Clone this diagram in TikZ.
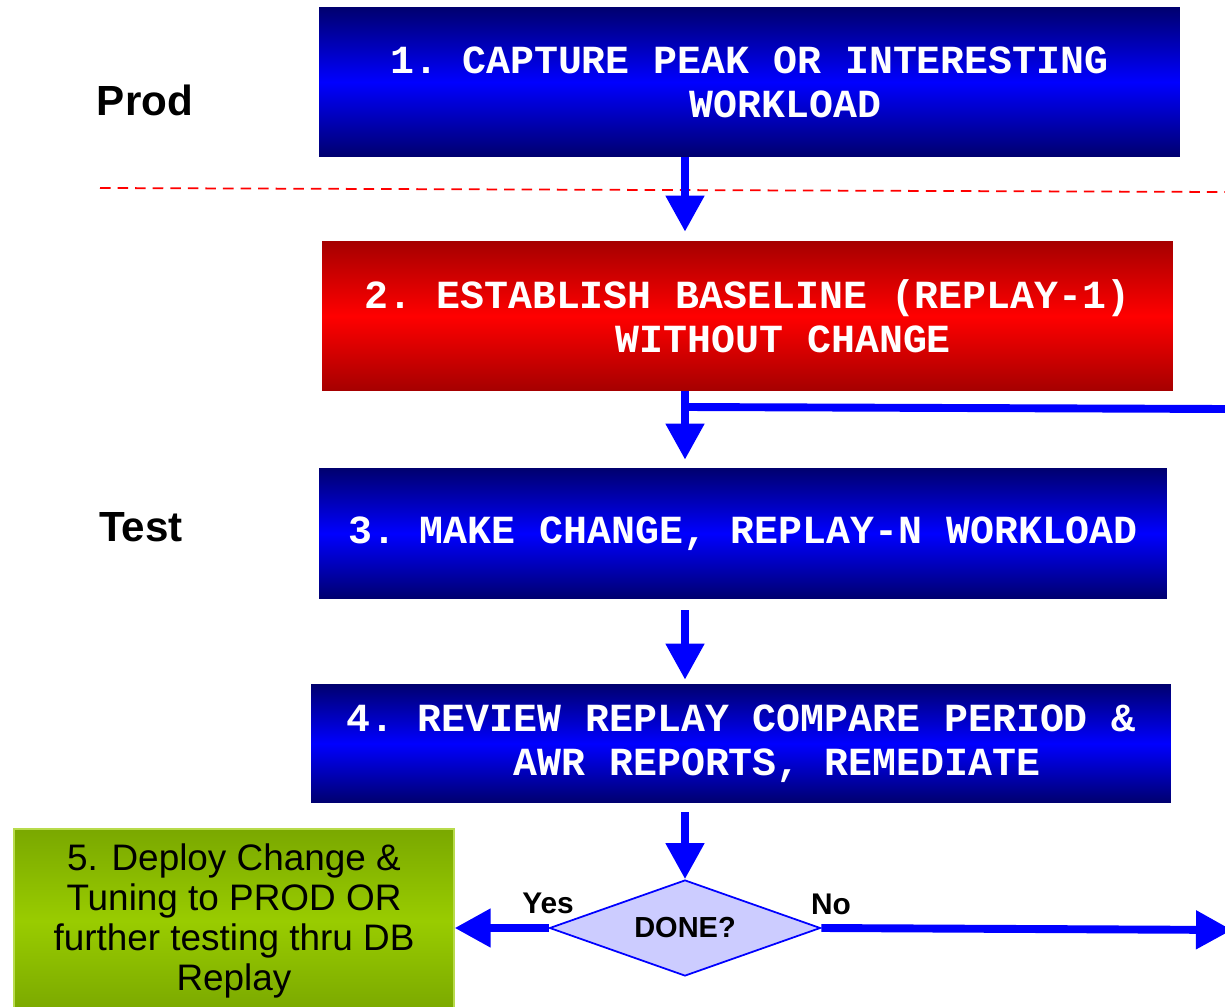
\documentclass[tikz,border=0pt]{standalone}
\usepackage{fontspec}
\setmainfont{Liberation Sans}
\setmonofont{Liberation Mono}
\usepackage{tikz}
\usetikzlibrary{arrows.meta, positioning, shapes.geometric}
\definecolor{stepnavy}{RGB}{0, 0, 110}
\definecolor{stepblue}{RGB}{0, 0, 255}
\definecolor{stepdarkred}{RGB}{165, 0, 0}
\definecolor{stepred}{RGB}{255, 0, 0}
\definecolor{deploydark}{RGB}{122, 168, 0}
\definecolor{deploygreen}{RGB}{153, 204, 0}
\definecolor{decidefill}{RGB}{204, 204, 255}

\tikzset{
  stepbox/.style={inner sep=0pt, align=center, text=white,
    font=\ttfamily\bfseries\fontsize{22.7}{25}\selectfont},
  bluestep/.style={stepbox, top color=stepnavy, bottom color=stepnavy, middle color=stepblue},
  redstep/.style={stepbox, top color=stepdarkred, bottom color=stepdarkred, middle color=stepred},
  flowline/.style={draw=stepblue, line width=4.5pt},
  flowarrow/.style={flowline, -{Triangle[length=0.72cm, width=0.74cm]}},
  sidelabel/.style={font=\bfseries\fontsize{24}{28}\selectfont},
  answer/.style={font=\bfseries\fontsize{17}{19}\selectfont}
}

\begin{document}
\begin{tikzpicture}[x=0.02cm, y=-0.02cm]
\useasboundingbox (0,0) rectangle (1225,1007);

% phase labels
\node[sidelabel] (prod) at (145,100) {Prod};
\node[sidelabel] (test) at (141,527) {Test};

% prod / test split
\coordinate (splitL) at (100,188);
\coordinate (splitR) at (1225,192);
\draw[red, dashed, line width=1pt, dash pattern=on 6pt off 4pt] (splitL) -- (splitR);

% steps
\node[bluestep, minimum width=17.22cm, minimum height=3cm] (capture) at (749.5,82)
  {1. CAPTURE PEAK OR INTERESTING\\\hphantom{000}WORKLOAD};
\node[redstep, minimum width=17.02cm, minimum height=3cm] (baseline) at (747.5,316)
  {2. ESTABLISH BASELINE (REPLAY-1)\\\hphantom{000}WITHOUT CHANGE};
\node[bluestep, minimum width=16.96cm, minimum height=2.62cm] (change) at (743,533.5)
  {3. MAKE CHANGE, REPLAY-N WORKLOAD};
\node[bluestep, minimum width=17.2cm, minimum height=2.38cm] (review) at (741,743.5)
  {4. REVIEW REPLAY COMPARE PERIOD \&\\\hphantom{000}AWR REPORTS, REMEDIATE};

% decision
\node[diamond, draw=stepblue, fill=decidefill, line width=1pt, aspect=2.82,
  minimum width=5.42cm, minimum height=1.92cm, inner sep=0pt,
  font=\bfseries\fontsize{16.5}{18}\selectfont] (done) at (685,928) {DONE?};

\node[draw=deploygreen!70!white, line width=0.8pt, top color=deploydark, bottom color=deploydark,
  middle color=deploygreen, minimum width=8.8cm, minimum height=3.68cm, inner sep=0pt,
  align=center, font=\fontsize{21}{22.8}\selectfont] (deploy) at (234,921)
  {5. Deploy Change \&\\Tuning to PROD OR\\further testing thru DB\\Replay};

% connectors
\draw[flowarrow, shorten >=0.18cm] (capture.south -| done) -- (baseline.north -| done);
\draw[flowarrow, shorten >=0.16cm] (baseline.south -| done) -- (change.north -| done);
\coordinate (branch) at (685,407);
\coordinate (rightA) at (1225,409);
\draw[flowline] (branch) -- (rightA);
\draw[flowarrow, shorten <=0.22cm, shorten >=0.08cm] (change.south -| done) -- (review.north -| done);
\draw[flowarrow, shorten <=0.18cm] (review.south -| done) -- (done.north);
\draw[flowarrow] (done.west) -- (done.west -| deploy.east);
\coordinate (noend) at (1232,930);
\draw[flowarrow] (done.east) -- (noend);

\node[answer] (yes) at (548,903) {Yes};
\node[answer] (no) at (831,904) {No};
\end{tikzpicture}
\end{document}
